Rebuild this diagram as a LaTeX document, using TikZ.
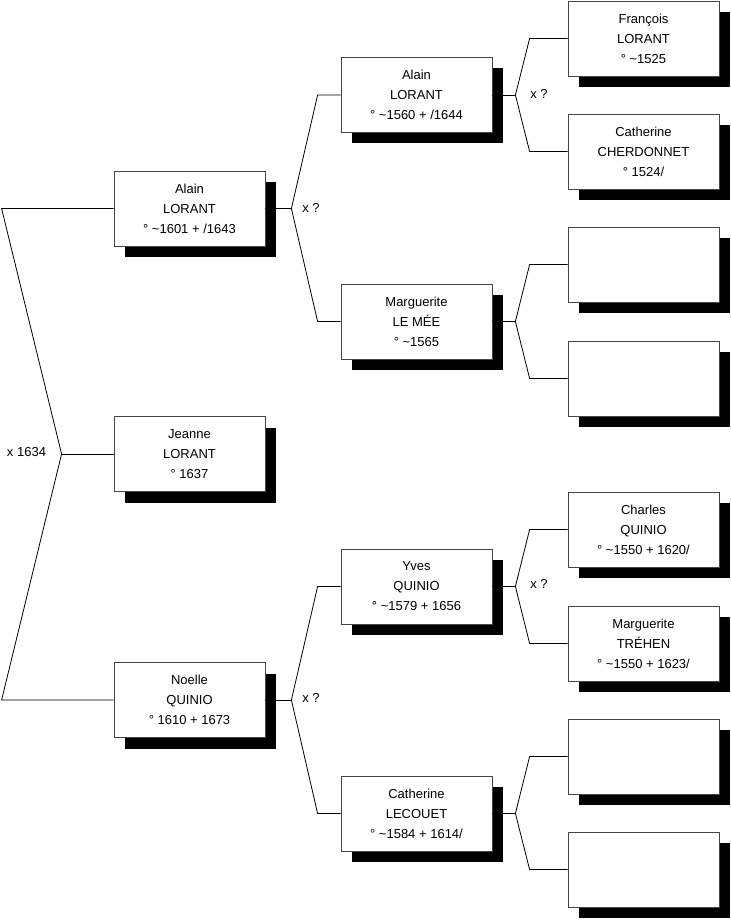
\documentclass[tikz,border=0pt]{standalone}
\usepackage{fontspec}
\setmainfont{Liberation Sans}
\usepackage{tikz}
\usetikzlibrary{shadows, calc}
\definecolor{boxline}{RGB}{70,70,70}
\tikzset{
  person/.style={rectangle, draw=boxline, fill=white, line width=0.6pt,
    minimum width=113.25pt, minimum height=56.25pt, inner sep=0pt,
    align=center, font=\fontsize{9.75}{15}\selectfont,
    drop shadow={shadow xshift=8.25pt, shadow yshift=-8.25pt, fill=black, opacity=1}},
  union/.style={font=\fontsize{9.75}{11}\selectfont, inner sep=0pt},
  link/.style={line width=0.6pt, color=black}
}

\begin{document}
\begin{tikzpicture}[x=0.75pt, y=-0.75pt]
  \useasboundingbox (0,0) rectangle (731,920);
  % generation 1
  \node[person] (alainA) at (189.5,208.5) {Alain\\LORANT\\° \textasciitilde1601 + /1643};
  \node[person] (jeanne) at (189.5,454) {Jeanne\\LORANT\\° 1637};
  \node[person] (noelle) at (189.5,700) {Noelle\\QUINIO\\° 1610 + 1673};
  % generation 2
  \node[person] (alainB) at (416.5,95) {Alain\\LORANT\\° \textasciitilde1560 + /1644};
  \node[person] (marguerite) at (416.5,321.5) {Marguerite\\LE MÉE\\° \textasciitilde1565};
  \node[person] (yves) at (416.5,586.5) {Yves\\QUINIO\\° \textasciitilde1579 + 1656};
  \node[person] (catherineL) at (416.5,813.5) {Catherine\\LECOUET\\° \textasciitilde1584 + 1614/};
  % generation 3
  \node[person] (francois) at (643.5,38.5) {François\\LORANT\\° \textasciitilde1525};
  \node[person] (catherineC) at (643.5,151.5) {Catherine\\CHERDONNET\\° 1524/};
  \node[person] (emptyA) at (643.5,264.5) {};
  \node[person] (emptyB) at (643.5,378.5) {};
  \node[person] (charles) at (643.5,529.5) {Charles\\QUINIO\\° \textasciitilde1550 + 1620/};
  \node[person] (margueriteT) at (643.5,643.5) {Marguerite\\TRÉHEN\\° \textasciitilde1550 + 1623/};
  \node[person] (emptyC) at (643.5,756.5) {};
  \node[person] (emptyD) at (643.5,869.5) {};

  % parents of Jeanne
  \draw[link] (jeanne.west) -- ++(-52,0) coordinate (jP);
  \draw[link] (alainA.west) -- ++(-112,0) -- (jP) -- ($(noelle.west)+(-112,0)$) -- (noelle.west);
  \node[union] (uP) at (26.5,452) {x 1634};

  % parents of Alain
  \draw[link] (alainA.east) -- ++(26,0) coordinate (jA);
  \draw[link] (alainB.west) -- ++(-23,0) -- (jA) -- ($(marguerite.west)+(-23,0)$) -- (marguerite.west);
  \node[union] (uA) at (311,208) {x ?};

  % parents of Noelle
  \draw[link] (noelle.east) -- ++(26,0) coordinate (jN);
  \draw[link] (yves.west) -- ++(-23,0) -- (jN) -- ($(catherineL.west)+(-23,0)$) -- (catherineL.west);
  \node[union] (uN) at (311,698) {x ?};

  % generation 3 links
  \draw[link] (alainB.east) -- ++(23,0) coordinate (jB);
  \draw[link] (francois.west) -- ++(-38,0) -- (jB) -- ($(catherineC.west)+(-38,0)$) -- (catherineC.west);
  \node[union] (uB) at (539,94) {x ?};

  \draw[link] (marguerite.east) -- ++(23,0) coordinate (jM);
  \draw[link] (emptyA.west) -- ++(-38,0) -- (jM) -- ($(emptyB.west)+(-38,0)$) -- (emptyB.west);

  \draw[link] (yves.east) -- ++(23,0) coordinate (jY);
  \draw[link] (charles.west) -- ++(-38,0) -- (jY) -- ($(margueriteT.west)+(-38,0)$) -- (margueriteT.west);
  \node[union] (uY) at (539,584) {x ?};

  \draw[link] (catherineL.east) -- ++(23,0) coordinate (jC);
  \draw[link] (emptyC.west) -- ++(-38,0) -- (jC) -- ($(emptyD.west)+(-38,0)$) -- (emptyD.west);
\end{tikzpicture}
\end{document}
